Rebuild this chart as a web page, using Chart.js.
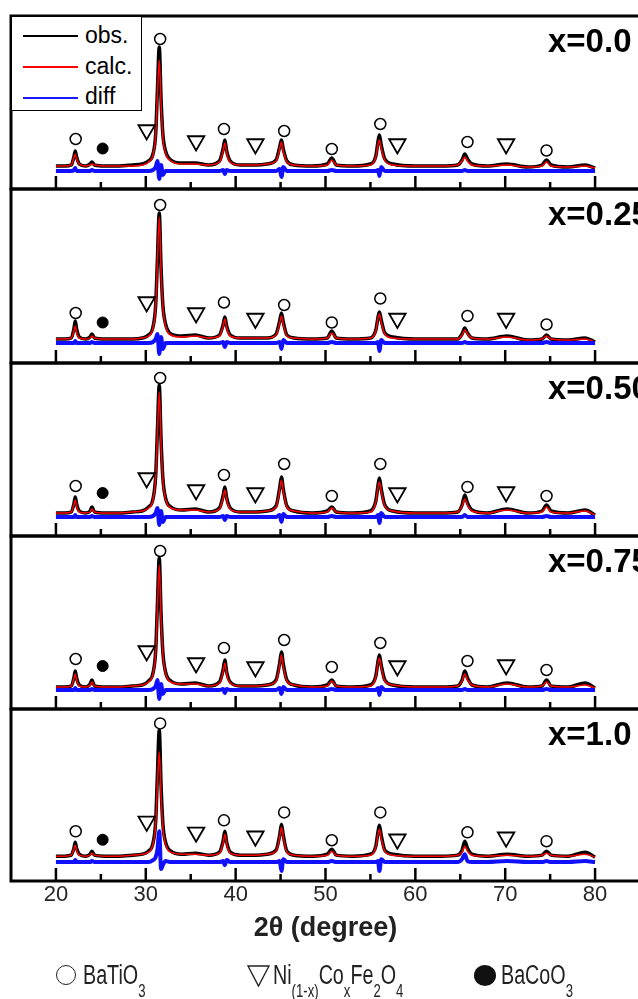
<!DOCTYPE html>
<html>
<head>
<meta charset="utf-8">
<script src="https://cdn.jsdelivr.net/npm/chart.js"></script>
<style>
  body { margin: 0; width: 638px; height: 999px; overflow: hidden; background: #fff; position: relative;
         font-family: "Liberation Sans", Arial, sans-serif; }
  .panel { position: absolute; left: 0; width: 652px; }
  .comp { position: absolute; left: 548px; font-weight: bold; font-size: 33px; line-height: 33px; white-space: nowrap; color: #000; z-index: 2; }
  #key { position: absolute; left: 11px; top: 16px; width: 131px; height: 95px; box-sizing: border-box; border: 1px solid #000; background: #fff; z-index: 2; }
  .kline { position: absolute; left: 11px; width: 55px; height: 1.5px; }
  .ktxt { position: absolute; left: 73px; font-size: 23px; line-height: 23px; color: #000; }
  .ltxt { position: absolute; top: 962px; font-size: 27px; line-height: 27px; transform: scaleX(0.73); transform-origin: 0 0; white-space: nowrap; color: #222; z-index: 2; }
  .sb { font-size: 18px; position: relative; top: 13px; }
  .ring { position: absolute; width: 20px; height: 20px; box-sizing: border-box; border: 1.4px solid #222; border-radius: 50%; }
  .disc { position: absolute; width: 22px; height: 21px; background: #111; border-radius: 50%; }
</style>
</head>
<body>

<div id="key">
  <span class="kline" style="top:18px;background:#000"></span><div class="ktxt" style="top:7px">obs.</div>
  <span class="kline" style="top:49px;background:#ff0000"></span><div class="ktxt" style="top:38px">calc.</div>
  <span class="kline" style="top:80px;background:#1a1aff"></span><div class="ktxt" style="top:68px">diff</div>
</div>

<span class="ring" style="left:56px;top:965px"></span>
<div class="ltxt" style="left:83px">BaTiO<span class="sb">3</span></div>
<svg style="position:absolute;left:247px;top:965px" width="23" height="22"><polygon points="1,1 22,1 11.5,21" fill="none" stroke="#222" stroke-width="1.4"/></svg>
<div class="ltxt" style="left:273px">Ni<span class="sb">(1-x)</span>Co<span class="sb">x</span>Fe<span class="sb">2</span>O<span class="sb">4</span></div>
<span class="disc" style="left:474px;top:965px"></span>
<div class="ltxt" style="left:501px">BaCoO<span class="sb">3</span></div>

<script>
// 2theta grid (degree) shared by all patterns
const twoTheta = [20.0, 21.0, 21.7, 22.0, 22.15, 22.3, 22.6, 23.3, 23.8, 24.0, 24.3, 25.5, 27.0, 28.5, 29.6, 30.3, 30.8, 31.1, 31.3, 31.5,
  31.7, 31.9, 32.2, 32.8, 34.0, 35.5, 37.0, 38.2, 38.6, 38.8, 39.0, 39.4, 40.5, 42.2, 43.5, 44.5, 44.9, 45.1, 45.3, 45.7,
  46.5, 48.5, 50.2, 50.7, 51.2, 53.0, 55.0, 55.6, 55.85, 56.0, 56.2, 56.6, 57.5, 60.0, 62.8, 64.7, 65.2, 65.5, 65.8, 66.3,
  68.0, 70.2, 72.5, 74.1, 74.6, 75.1, 77.0, 78.9, 80.0];

// compositions
const compLabels = ['x=0.0', 'x=0.25', 'x=0.50', 'x=0.75', 'x=1.0'];

// observed intensity (a.u.)
const obs000 = [23,23,24,32,38,32,25,23,25,27,24,23,23,24,25,28,35,55,100,142,90,55,38,29,26,26,24,28,40,49,38,28,24,24,25,29,42,49,40,28,24,23,25,31,24,23,25,33,48,54,44,30,25,23,23,24,29,35,30,25,23,25,22,24,29,24,22,24,21];
const obs025 = [24,24,25,34,42,34,26,24,26,29,25,24,24,24,25,28,36,58,105,150,95,58,39,29,27,28,25,28,38,46,37,28,25,25,25,29,42,50,41,28,25,24,25,32,25,24,25,33,46,51,43,30,26,24,24,24,29,35,30,25,24,27,23,24,28,24,23,25,21];
const obs050 = [23,23,24,32,39,32,25,23,25,29,24,23,23,24,25,29,37,60,107,151,96,58,38,29,26,27,24,28,40,49,38,28,24,24,25,30,48,59,47,30,25,23,25,29,24,23,25,35,51,58,47,31,25,23,23,24,31,41,33,26,23,27,23,25,31,25,23,26,21];
const obs075 = [22,22,23,31,38,31,24,22,25,29,23,22,22,23,24,28,36,58,106,151,95,57,37,28,25,26,23,27,39,49,37,27,23,23,24,29,46,57,45,29,24,22,24,29,23,22,24,33,48,54,44,29,24,22,22,23,29,38,31,24,22,26,22,23,29,23,22,26,21];
const obs100 = [25,25,26,33,39,33,27,25,27,30,26,25,25,26,27,30,38,60,108,152,96,58,39,30,27,28,26,29,40,50,39,29,26,26,27,31,46,57,46,30,26,25,27,32,26,25,27,35,50,56,46,31,27,25,25,26,31,40,33,27,25,27,25,26,30,26,25,29,24];

// calculated (Rietveld) intensity
const calc000 = [23,23,24,31,35,30,25,23,24,25,24,23,23,23,24,27,34,53,95,129,85,52,36,28,25,25,24,27,38,46,36,27,24,24,25,28,40,47,38,27,24,23,24,29,24,23,24,32,45,49,41,29,24,23,23,24,28,32,28,24,23,24,22,23,27,23,22,23,21];
const calc025 = [24,24,25,32,37,31,25,24,25,27,25,24,24,24,25,27,35,56,102,146,92,56,37,28,26,27,25,27,37,44,35,27,25,25,25,28,40,47,39,27,25,24,25,30,25,24,25,32,45,49,41,29,25,24,24,24,28,33,29,25,24,26,23,24,27,24,23,24,21];
const calc050 = [23,23,24,31,36,30,24,23,24,27,24,23,23,24,25,28,36,58,103,144,92,56,37,28,26,26,24,27,38,46,36,27,24,24,25,29,46,56,45,29,25,23,24,28,24,23,24,34,49,54,45,30,25,23,23,24,30,37,31,25,23,26,23,24,29,24,23,25,21];
const calc075 = [22,22,23,30,35,29,23,22,24,27,23,22,22,23,24,27,35,56,102,144,91,55,36,27,25,25,23,26,37,46,35,26,23,23,24,28,44,54,43,28,24,22,23,28,23,22,23,32,46,51,42,28,24,22,22,23,28,35,29,24,22,25,22,23,27,23,22,24,21];
const calc100 = [25,25,26,32,36,31,26,25,26,28,26,25,25,26,27,29,37,56,98,130,86,54,37,29,27,27,26,28,38,47,37,28,26,26,27,30,44,54,44,29,26,25,26,30,26,25,26,34,47,52,43,30,26,25,25,26,29,35,30,26,25,26,25,26,28,26,25,27,24];

// difference curve (shifted)
const diff000 = [18,18,18,19,21,18,18,18,18,19,18,18,18,18,18,18,19,22,28,10,24,14,18,18,18,18,18,18,19,15,19,18,18,18,18,18,20,12,22,18,18,18,18,19,18,18,18,18,19,13,22,18,18,18,18,18,18,19,18,18,18,18,18,18,18,18,18,18,18];
const diff025 = [20,20,20,20,22,20,20,20,20,21,20,20,20,20,20,20,21,24,29,9,26,14,20,20,20,20,20,20,21,16,21,20,20,20,20,20,21,14,23,20,20,20,20,21,20,20,20,20,21,12,23,20,20,20,20,20,20,21,20,20,20,20,20,20,21,20,20,20,20];
const diff050 = [19,19,19,19,21,19,19,19,19,20,19,19,19,19,19,19,20,23,28,11,25,14,19,19,19,19,19,19,20,16,20,19,19,19,19,19,21,14,22,19,19,19,19,20,19,19,19,19,21,13,23,19,19,19,19,19,19,21,19,19,19,19,19,19,20,19,19,19,19];
const diff075 = [19,19,19,19,21,19,19,19,19,20,19,19,19,19,19,19,20,23,29,10,25,15,19,19,19,19,19,19,20,16,20,19,19,19,19,19,21,15,22,19,19,19,19,20,19,19,19,19,21,14,22,19,19,19,19,19,19,20,19,19,19,19,19,19,20,19,19,19,19];
const diff100 = [19,19,19,19,21,19,19,19,19,20,19,19,19,19,19,19,21,24,32,50,12,16,20,19,19,19,19,19,20,16,21,19,19,19,19,19,20,10,22,19,19,19,19,20,19,19,19,19,20,10,22,19,19,19,19,19,22,27,20,19,19,20,19,19,20,19,19,20,19];

// phase markers: positions (2theta) and heights per pattern
const batioPos  = [22.2, 31.6, 38.7, 45.4, 50.7, 56.1, 65.8, 74.6];
const spinelPos = [30.1, 35.6, 42.2, 58.0, 70.1];
const bacoPos   = [25.2];
const batioH  = [[50,150,60,58,40,65,47,38.5], [50,158,60.5,58,40.5,64.5,47,38.5], [50,158,61,72,40,72,49,40], [50,158,61,69,42,66,48,39], [50,158.5,61,69,41,69,49,40]];
const spinelH = [[59,48,45,45,45], [61,50,44.5,44.5,44.5], [58,46,43,43,44], [58,46,42,43,44], [60,49,45,42,44]];
const bacoH   = [[40.5], [40.5], [43], [43], [41.5]];

// x ticks
const tickValues = [20, 25, 30, 35, 40, 45, 50, 55, 60, 65, 70, 75, 80];

const obsAll = [obs000, obs025, obs050, obs075, obs100];
const calcAll = [calc000, calc025, calc050, calc075, calc100];
const diffAll = [diff000, diff025, diff050, diff075, diff100];

const panelTop = [16, 189, 363, 536, 709, 882];

Chart.defaults.font.family = "'Liberation Sans', Arial, sans-serif";

const frame = {
  id: 'frame',
  afterDraw(chart) {
    const { ctx, chartArea: a, scales: { x } } = chart;
    ctx.save();
    ctx.strokeStyle = '#000';
    ctx.lineWidth = 3;
    ctx.strokeRect(a.left, a.top, a.right - a.left, a.bottom - a.top);
    ctx.lineWidth = 2.5;
    tickValues.forEach(v => {
      const px = x.getPixelForValue(v);
      const len = v % 10 === 0 ? 13 : 7;
      ctx.beginPath();
      ctx.moveTo(px, a.bottom);
      ctx.lineTo(px, a.bottom - len);
      ctx.stroke();
    });
    ctx.restore();
  }
};

function pts(xs, ys) {
  return xs.map((v, i) => ({ x: v, y: ys[i] }));
}

for (let i = 0; i < 5; i++) {
  const isLast = i === 4;
  const h = panelTop[i + 1] - panelTop[i];
  const wrap = document.createElement('div');
  wrap.className = 'panel';
  wrap.style.top = (panelTop[i] - 4) + 'px';
  const cvH = isLast ? 290 : h + 8;
  wrap.style.height = cvH + 'px';
  const cv = document.createElement('canvas');
  cv.width = 652;
  cv.height = cvH;
  wrap.appendChild(cv);
  document.body.appendChild(wrap);

  const lab = document.createElement('div');
  lab.className = 'comp';
  lab.style.top = (panelTop[i] + 8) + 'px';
  lab.textContent = compLabels[i];
  document.body.appendChild(lab);

  const line = (label, data, color, width, order) => ({
    label, data: pts(twoTheta, data), showLine: true, borderColor: color, borderWidth: width,
    pointRadius: 0, cubicInterpolationMode: 'monotone', order
  });

  new Chart(cv, {
    type: 'scatter',
    data: {
      datasets: [
        { label: 'BaTiO3', data: pts(batioPos, batioH[i]), pointStyle: 'circle', pointRadius: 5.5,
          pointBorderColor: '#000', pointBackgroundColor: '#fff', pointBorderWidth: 1.5, order: 0 },
        { label: 'Ni(1-x)CoxFe2O4', data: pts(spinelPos, spinelH[i]), pointStyle: 'triangle', pointRotation: 180,
          pointRadius: 9.5, pointBorderColor: '#000', pointBackgroundColor: '#fff', pointBorderWidth: 1.8, order: 0 },
        { label: 'BaCoO3', data: pts(bacoPos, bacoH[i]), pointStyle: 'circle', pointRadius: 5.5,
          pointBorderColor: '#000', pointBackgroundColor: '#000', pointBorderWidth: 1, order: 0 },
        line('diff', diffAll[i], '#1010ff', 4, 1),
        line('calc.', calcAll[i], '#ff0000', 1.5, 2),
        line('obs.', obsAll[i], '#000000', 3.5, 3)
      ]
    },
    options: {
      responsive: false,
      animation: false,
      events: [],
      layout: { autoPadding: false, padding: { left: 11, right: 12, top: 4, bottom: isLast ? 50.2 : 4 } },
      plugins: { legend: { display: false }, tooltip: { enabled: false } },
      scales: {
        x: {
          type: 'linear', min: 15, max: 85, display: isLast,
          grid: { display: false, drawTicks: false },
          border: { display: false },
          ticks: {
            stepSize: 5, autoSkip: false, maxRotation: 0, padding: 1,
            font: { size: 22 }, color: '#262626',
            callback: v => (v % 10 === 0 && v >= 20 && v <= 80) ? String(v) : ''
          },
          title: { display: true, text: '2θ (degree)', font: { size: 27, weight: 'bold' }, color: '#222',
                   padding: { top: 3, bottom: 0 } }
        },
        y: { min: 0, max: h, display: false }
      }
    },
    plugins: [frame]
  });
}
</script>
</body>
</html>
